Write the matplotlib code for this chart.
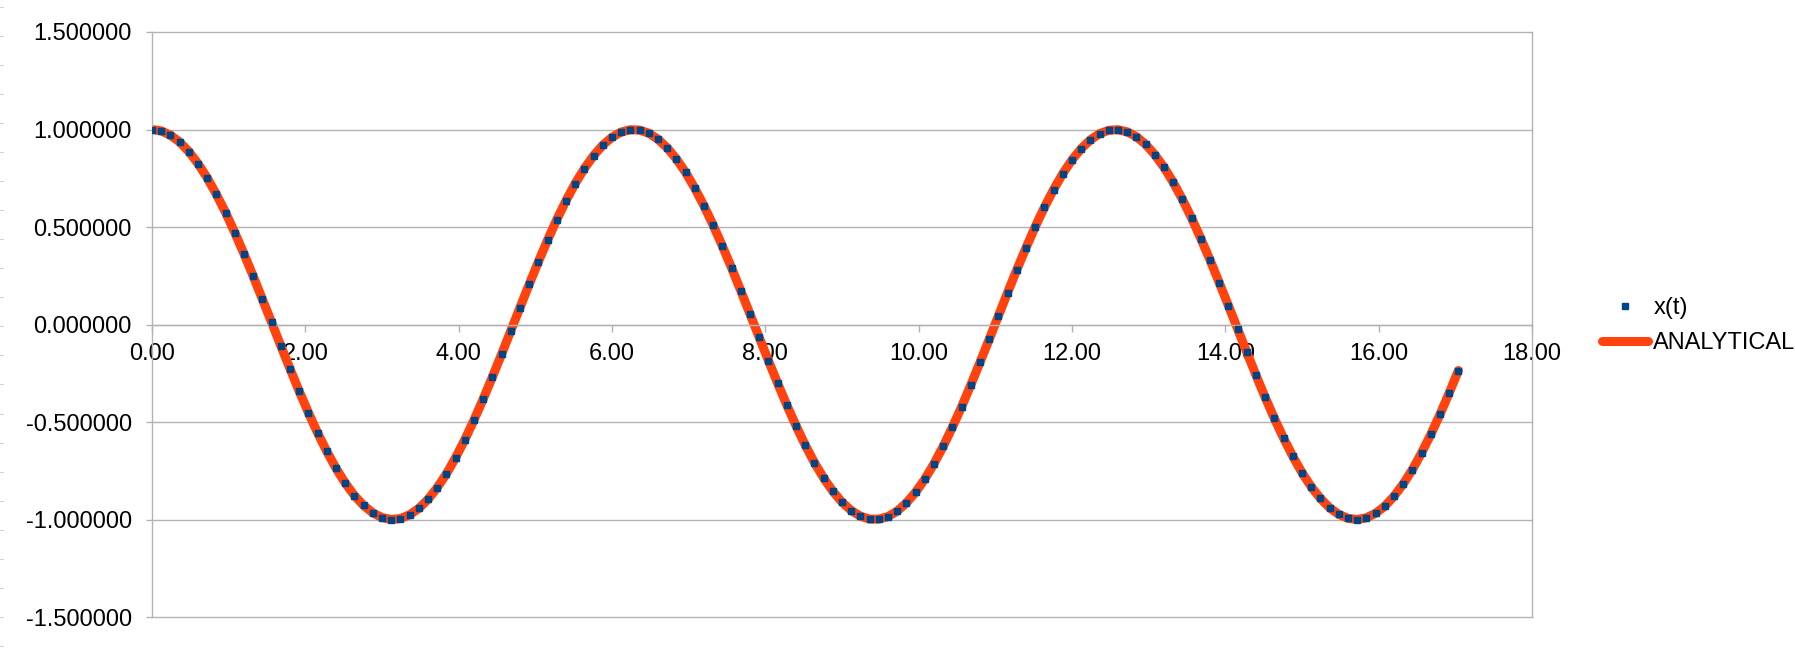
import matplotlib
matplotlib.use("Agg")
import matplotlib.pyplot as plt
from matplotlib.lines import Line2D
from matplotlib.ticker import FormatStrFormatter

plt.rcParams['font.family'] = ['Liberation Sans', 'DejaVu Sans']

# time steps
t = [0.00, 0.12, 0.24, 0.36, 0.48, 0.60, 0.72, 0.84, 0.96, 1.08,
     1.20, 1.32, 1.44, 1.56, 1.68, 1.80, 1.92, 2.04, 2.16, 2.28,
     2.40, 2.52, 2.64, 2.76, 2.88, 3.00, 3.12, 3.24, 3.36, 3.48,
     3.60, 3.72, 3.84, 3.96, 4.08, 4.20, 4.32, 4.44, 4.56, 4.68,
     4.80, 4.92, 5.04, 5.16, 5.28, 5.40, 5.52, 5.64, 5.76, 5.88,
     6.00, 6.12, 6.24, 6.36, 6.48, 6.60, 6.72, 6.84, 6.96, 7.08,
     7.20, 7.32, 7.44, 7.56, 7.68, 7.80, 7.92, 8.04, 8.16, 8.28,
     8.40, 8.52, 8.64, 8.76, 8.88, 9.00, 9.12, 9.24, 9.36, 9.48,
     9.60, 9.72, 9.84, 9.96, 10.08, 10.20, 10.32, 10.44, 10.56, 10.68,
     10.80, 10.92, 11.04, 11.16, 11.28, 11.40, 11.52, 11.64, 11.76, 11.88,
     12.00, 12.12, 12.24, 12.36, 12.48, 12.60, 12.72, 12.84, 12.96, 13.08,
     13.20, 13.32, 13.44, 13.56, 13.68, 13.80, 13.92, 14.04, 14.16, 14.28,
     14.40, 14.52, 14.64, 14.76, 14.88, 15.00, 15.12, 15.24, 15.36, 15.48,
     15.60, 15.72, 15.84, 15.96, 16.08, 16.20, 16.32, 16.44, 16.56, 16.68,
     16.80, 16.92, 17.04]

# x(t) points (numerical) and analytical curve, they overlap on the chart
x_num = [1.000, 0.993, 0.971, 0.936, 0.887, 0.825, 0.752, 0.667, 0.574, 0.471,
         0.362, 0.248, 0.130, 0.011, -0.109, -0.227, -0.342, -0.452, -0.556, -0.651,
         -0.737, -0.813, -0.877, -0.928, -0.966, -0.990, -1.000, -0.995, -0.976, -0.943,
         -0.897, -0.837, -0.766, -0.683, -0.591, -0.490, -0.382, -0.269, -0.152, -0.032,
         0.087, 0.206, 0.322, 0.433, 0.538, 0.635, 0.723, 0.800, 0.866, 0.920,
         0.960, 0.987, 0.999, 0.997, 0.981, 0.950, 0.906, 0.849, 0.780, 0.699,
         0.608, 0.509, 0.402, 0.290, 0.173, 0.054, -0.066, -0.185, -0.301, -0.413,
         -0.519, -0.618, -0.708, -0.787, -0.855, -0.911, -0.954, -0.983, -0.998, -0.998,
         -0.985, -0.957, -0.915, -0.860, -0.793, -0.714, -0.625, -0.527, -0.422, -0.310,
         -0.194, -0.076, 0.044, 0.164, 0.281, 0.393, 0.501, 0.601, 0.692, 0.774,
         0.844, 0.902, 0.947, 0.979, 0.996, 0.999, 0.988, 0.963, 0.924, 0.871,
         0.806, 0.729, 0.642, 0.546, 0.441, 0.331, 0.215, 0.097, -0.023, -0.142,
         -0.260, -0.374, -0.482, -0.583, -0.676, -0.760, -0.832, -0.892, -0.940, -0.974,
         -0.994, -1.000, -0.991, -0.968, -0.932, -0.881, -0.818, -0.744, -0.658, -0.564,
         -0.461, -0.351, -0.236]
x_ana = list(x_num)

xticks = [0, 2, 4, 6, 8, 10, 12, 14, 16, 18]
yticks = [-1.5, -1.0, -0.5, 0.0, 0.5, 1.0, 1.5]

W, H = 1795, 666
grey = "#b3b3b3"

fig = plt.figure(figsize=(W/100, H/100), dpi=100)
ax = fig.add_axes([152/W, 1-617/H, (1532-152)/W, (617-32)/H])

ax.plot(t, x_ana, color="#ff420e", lw=6.5, solid_capstyle="round", zorder=2)
ax.plot(t, x_num, ls="none", marker="s", ms=4.3, color="#004586", zorder=3)

ax.set_xlim(0, 18)
ax.set_ylim(-1.5, 1.5)
ax.set_xticks(xticks)
ax.set_yticks(yticks)
ax.xaxis.set_major_formatter(FormatStrFormatter('%.2f'))
ax.yaxis.set_major_formatter(FormatStrFormatter('%.6f'))

ax.grid(axis='y', color=grey, lw=1.0, zorder=0)
ax.set_axisbelow(True)
for gl in ax.get_ygridlines():
    gl.set_clip_on(False)
for s in ['left', 'right', 'top', 'bottom']:
    ax.spines[s].set_color(grey)
    ax.spines[s].set_linewidth(1.0)
ax.spines['bottom'].set_position(('data', 0))
ax.spines['top'].set_visible(False)

ax.tick_params(axis='x', direction='out', length=5, width=1, color=grey,
               labelsize=17, pad=8)
ax.tick_params(axis='y', direction='out', length=4.5, width=1, color=grey,
               labelsize=17, pad=10)

# faint ruler marks on the very left edge
for k in range(23):
    yy = 1 - (6.7 + 29.06 * k) / H
    fig.add_artist(Line2D([0, 3/W], [yy, yy], color="#d0d0d0", lw=0.7))

handles = [Line2D([], [], ls="none", marker="s", ms=4.3, color="#004586"),
           Line2D([], [], color="#ff420e", lw=6.5, solid_capstyle="round")]
fig.legend(handles, ["x(t)", "ANALYTICAL"], loc="upper left",
           bbox_to_anchor=(1602/W, 1-297/H), frameon=False, fontsize=17,
           borderpad=0, borderaxespad=0, handlelength=1.95,
           handletextpad=0.22, labelspacing=0.56)

fig.savefig("out.png", dpi=100)
